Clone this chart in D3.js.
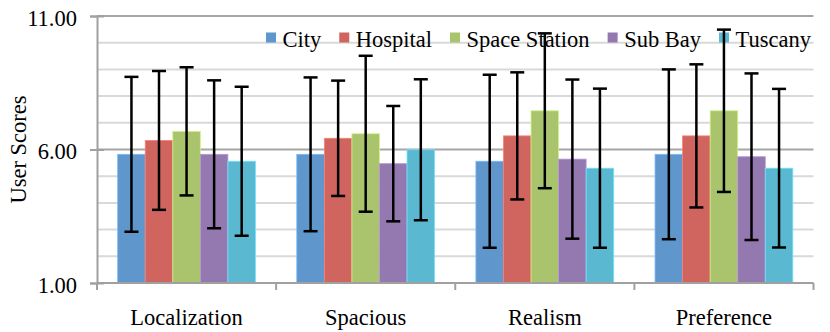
<!DOCTYPE html>
<html>
<head>
<meta charset="utf-8">
<script src="https://cdn.jsdelivr.net/npm/d3@7"></script>
<style>
    body { margin: 0; background: #fff; }
    text { font-family: "Liberation Serif", "Times New Roman", serif; fill: #000; }
</style>
</head>
<body>
<svg id="chart" width="830" height="332"></svg>
<script>
// Chart data
const categories = ['Localization', 'Spacious', 'Realism', 'Preference'];
const seriesNames = ['City', 'Hospital', 'Space Station', 'Sub Bay', 'Tuscany'];
const colors = ['#5f96cc', '#cf655e', '#a9c46c', '#9479b1', '#5bb8d1'];

// Mean scores, one array per series (in category order)
const city = [5.82, 5.82, 5.56, 5.82];
const hospital = [6.34, 6.42, 6.51, 6.51];
const spaceStation = [6.68, 6.59, 7.45, 7.45];
const subBay = [5.82, 5.47, 5.64, 5.73];
const tuscany = [5.56, 5.99, 5.30, 5.30];

// Error bar half-lengths (std dev)
const cityErr = [2.90, 2.88, 3.24, 3.18];
const hospitalErr = [2.60, 2.16, 2.38, 2.68];
const spaceStationErr = [2.40, 2.92, 2.90, 3.04];
const subBayErr = [2.77, 2.16, 2.98, 3.12];
const tuscanyErr = [2.79, 2.64, 2.98, 2.97];

const yTicks = [1, 6, 11];
const yGrid = [2, 3, 4, 5, 7, 8, 9, 10];
const yTitle = 'User Scores';

const means = [city, hospital, spaceStation, subBay, tuscany];
const errs = [cityErr, hospitalErr, spaceStationErr, subBayErr, tuscanyErr];
const fontSize = 22.5;

// flatten into rows for binding
const rows = [];
categories.forEach((cat, ci) => {
    seriesNames.forEach((s, si) => {
        rows.push({ cat, series: s, si, value: means[si][ci], err: errs[si][ci] });
    });
});

const svg = d3.select('#chart');
const margin = { top: 16, right: 16.5, bottom: 49, left: 97 };
const width = +svg.attr('width');
const height = +svg.attr('height');

const xScale = d3.scaleBand()
    .domain(categories)
    .range([margin.left, width - margin.right]);

const xInner = d3.scaleBand()
    .domain(seriesNames)
    .range([0, xScale.bandwidth()])
    .paddingInner(0)
    .paddingOuter(0.75);

const yScale = d3.scaleLinear()
    .domain([1, 11])
    .range([height - margin.bottom, margin.top]);

// minor gridlines
svg.append('g')
    .selectAll('line')
    .data(yGrid)
    .join('line')
    .attr('x1', margin.left)
    .attr('x2', width - margin.right)
    .attr('y1', d => yScale(d))
    .attr('y2', d => yScale(d))
    .attr('stroke', '#d9d9d9')
    .attr('stroke-width', 2);

// major gridlines
svg.append('g')
    .selectAll('line')
    .data(yTicks.slice(1))
    .join('line')
    .attr('x1', margin.left)
    .attr('x2', width - margin.right)
    .attr('y1', d => yScale(d))
    .attr('y2', d => yScale(d))
    .attr('stroke', '#a6a6a6')
    .attr('stroke-width', 2);

// legend (no background, sits under error bars)
const legend = svg.append('g').attr('class', 'legend');
let lx = 266;
seriesNames.forEach((s, i) => {
    legend.append('rect')
        .attr('x', lx)
        .attr('y', 32.5)
        .attr('width', 10)
        .attr('height', 10)
        .attr('fill', colors[i]);
    const t = legend.append('text')
        .attr('x', lx + 16.5)
        .attr('y', 47)
        .attr('font-size', fontSize)
        .text(s);
    lx += 16.5 + t.node().getComputedTextLength() + 18;
});

// bars
svg.append('g')
    .selectAll('rect')
    .data(rows)
    .join('rect')
    .attr('x', d => xScale(d.cat) + xInner(d.series))
    .attr('y', d => yScale(d.value))
    .attr('width', xInner.bandwidth())
    .attr('height', d => yScale(1) - yScale(d.value))
    .attr('fill', d => colors[d.si])
    .attr('stroke', d => d3.color(colors[d.si]).brighter(0.6))
    .attr('stroke-width', 0.8);

// error bars
const eb = svg.append('g')
    .selectAll('g')
    .data(rows)
    .join('g')
    .attr('stroke', '#000')
    .attr('stroke-width', 2.5);

const cx = d => xScale(d.cat) + xInner(d.series) + xInner.bandwidth() / 2;
const capW = 7;

eb.append('line')
    .attr('x1', cx).attr('x2', cx)
    .attr('y1', d => yScale(d.value + d.err))
    .attr('y2', d => yScale(d.value - d.err));
eb.append('line')
    .attr('x1', d => cx(d) - capW).attr('x2', d => cx(d) + capW)
    .attr('y1', d => yScale(d.value + d.err))
    .attr('y2', d => yScale(d.value + d.err));
eb.append('line')
    .attr('x1', d => cx(d) - capW).attr('x2', d => cx(d) + capW)
    .attr('y1', d => yScale(d.value - d.err))
    .attr('y2', d => yScale(d.value - d.err));

// y axis
const yAxis = svg.append('g')
    .attr('transform', `translate(${margin.left},0)`)
    .call(d3.axisLeft(yScale).tickValues(yTicks).tickFormat(d3.format('.2f')).tickSize(7).tickPadding(13));
yAxis.select('.domain').attr('stroke', '#a0a0a0').attr('stroke-width', 2);
yAxis.selectAll('.tick line').attr('stroke', '#a0a0a0').attr('stroke-width', 2).attr('x2', -7).attr('x1', 7);
yAxis.selectAll('.tick text')
    .attr('font-size', fontSize)
    .attr('fill', '#000')
    .attr('dy', '0.4em');

// x axis
const xAxis = svg.append('g')
    .attr('transform', `translate(0,${yScale(1)})`)
    .call(d3.axisBottom(xScale).tickSize(0).tickPadding(26));
xAxis.select('.domain').attr('stroke', '#a0a0a0').attr('stroke-width', 2).attr('d', `M${margin.left},0H${width - margin.right}`);
xAxis.selectAll('.tick text')
    .attr('font-size', fontSize)
    .attr('fill', '#000');

// category boundary ticks
xAxis.append('g')
    .selectAll('line')
    .data(categories.concat(['end']))
    .join('line')
    .attr('x1', (d, i) => i < categories.length ? xScale(d) : xScale.range()[1])
    .attr('x2', (d, i) => i < categories.length ? xScale(d) : xScale.range()[1])
    .attr('y1', 0)
    .attr('y2', 7)
    .attr('stroke', '#a0a0a0')
    .attr('stroke-width', 2);

// y title
svg.append('text')
    .attr('transform', `translate(26,${(yScale(1) + yScale(11)) / 2}) rotate(-90)`)
    .attr('text-anchor', 'middle')
    .attr('font-size', fontSize)
    .text(yTitle);
</script>
</body>
</html>
